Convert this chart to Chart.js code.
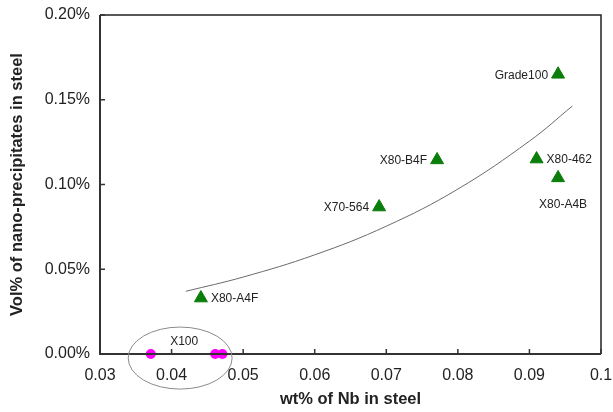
<!DOCTYPE html>
<html>
<head>
<meta charset="utf-8">
<script src="https://cdn.jsdelivr.net/npm/chart.js@4"></script>
<style>
  html, body { margin: 0; padding: 0; background: #fff; }
  #wrap { width: 613px; height: 412px; }
</style>
</head>
<body>
<div id="wrap"><canvas id="c" width="613" height="412"></canvas></div>
<script>
// steel grades (triangles)
const steelNames = ["X80-A4F", "X70-564", "X80-B4F", "Grade100", "X80-462", "X80-A4B"];
const steelNb = [0.0441, 0.0690, 0.0771, 0.0940, 0.0910, 0.0940];
const steelVol = [0.033, 0.0867, 0.1145, 0.165, 0.115, 0.1039];
const labelSide = ["right", "left", "left", "left", "right", "below"];

// X100 (circles)
const x100Nb = [0.0371, 0.0461, 0.0471];
const x100Vol = [0, 0, 0];

// fitted curve
const trendNb = [0.042, 0.050, 0.060, 0.070, 0.080, 0.090, 0.096];
const trendVol = [0.037, 0.0454, 0.0585, 0.0754, 0.0973, 0.1256, 0.1463];

// ellipse round the X100 group
const ringCenter = [0.0412, -0.0024];
const ringRadius = [0.00726, 0.0183];

const xTicks = [0.03, 0.04, 0.05, 0.06, 0.07, 0.08, 0.09, 0.1];
const yTicks = [0, 0.05, 0.10, 0.15, 0.20];

const font = "Arial, 'Liberation Sans', sans-serif";

const pts = (xs, ys) => xs.map((x, i) => ({ x: x, y: ys[i] }));

const decorPlugin = {
    id: "decor",
    afterDatasetsDraw(chart) {
        const ctx = chart.ctx;
        const xs = chart.scales.x, ys = chart.scales.y;
        const a = chart.chartArea;
        ctx.save();

        // frame: thin top/right, heavier left/bottom
        ctx.strokeStyle = "#222";
        ctx.lineWidth = 1.5;
        ctx.beginPath();
        ctx.moveTo(a.left, a.top);
        ctx.lineTo(a.right, a.top);
        ctx.lineTo(a.right, a.bottom);
        ctx.stroke();
        ctx.lineWidth = 2;
        ctx.strokeStyle = "#333";
        ctx.beginPath();
        ctx.moveTo(a.left, a.top);
        ctx.lineTo(a.left, a.bottom);
        ctx.lineTo(a.right, a.bottom);
        ctx.stroke();

        // inward ticks
        ctx.lineWidth = 1.5;
        ctx.beginPath();
        xTicks.forEach(v => {
            const px = xs.getPixelForValue(v);
            ctx.moveTo(px, a.bottom);
            ctx.lineTo(px, a.bottom - 5);
        });
        yTicks.forEach(v => {
            const py = ys.getPixelForValue(v);
            ctx.moveTo(a.left, py);
            ctx.lineTo(a.left + 5, py);
        });
        ctx.stroke();

        // point labels
        ctx.fillStyle = "#222";
        ctx.font = "12px " + font;
        ctx.textBaseline = "middle";
        steelNames.forEach((name, i) => {
            const px = xs.getPixelForValue(steelNb[i]);
            const py = ys.getPixelForValue(steelVol[i]);
            if (labelSide[i] === "right") {
                ctx.textAlign = "left";
                ctx.fillText(name, px + 10, py + 1);
            } else if (labelSide[i] === "left") {
                ctx.textAlign = "right";
                ctx.fillText(name, px - 10, py + 1);
            } else {
                ctx.textAlign = "center";
                ctx.fillText(name, px + 5, py + 27);
            }
        });

        // ellipse + X100 label
        const cx = xs.getPixelForValue(ringCenter[0]);
        const cy = ys.getPixelForValue(ringCenter[1]);
        const rx = xs.getPixelForValue(ringCenter[0] + ringRadius[0]) - cx;
        const ry = cy - ys.getPixelForValue(ringCenter[1] + ringRadius[1]);
        ctx.strokeStyle = "#8a8a8a";
        ctx.lineWidth = 1;
        ctx.beginPath();
        ctx.ellipse(cx, cy, rx, ry, 0, 0, Math.PI * 2);
        ctx.stroke();
        ctx.textAlign = "center";
        ctx.fillText("X100", cx + 4, cy - 16);

        ctx.restore();
    }
};

const ctx = document.getElementById("c").getContext("2d");
new Chart(ctx, {
    type: "scatter",
    data: {
        datasets: [
            {
                label: "trend",
                type: "line",
                data: pts(trendNb, trendVol),
                borderColor: "#6a6a6a",
                borderWidth: 1,
                pointRadius: 0,
                tension: 0.4,
                fill: false
            },
            {
                label: "steels",
                data: pts(steelNb, steelVol),
                pointStyle: "triangle",
                pointRadius: 7.5,
                backgroundColor: "#0a7d0a",
                borderColor: "#0a7d0a",
                borderWidth: 1
            },
            {
                label: "X100",
                data: pts(x100Nb, x100Vol),
                pointStyle: "circle",
                pointRadius: 5,
                backgroundColor: "#ff00ff",
                borderColor: "#ff00ff",
                borderWidth: 0,
                clip: false
            }
        ]
    },
    options: {
        responsive: false,
        animation: false,
        layout: { padding: { top: 15, right: 12, left: 0, bottom: 0 } },
        plugins: {
            legend: { display: false },
            tooltip: { enabled: false }
        },
        scales: {
            x: {
                type: "linear",
                min: 0.03,
                max: 0.1,
                afterBuildTicks: s => { s.ticks = xTicks.map(v => ({ value: v })); },
                afterFit: s => {
                    s.height = 58;
                    s.paddingLeft = 0;
                    s.paddingRight = 0;
                },
                grid: { display: false, drawTicks: false },
                border: { display: false },
                ticks: {
                    padding: 12,
                    color: "#222",
                    font: { family: font, size: 16 },
                    callback: v => (v === 0.1 ? "0.1" : v.toFixed(2))
                },
                title: {
                    display: true,
                    text: "wt% of Nb in steel",
                    color: "#222",
                    font: { family: font, size: 16.5, weight: "bold" },
                    padding: { top: 0, bottom: 3 }
                }
            },
            y: {
                type: "linear",
                min: 0,
                max: 0.2,
                afterBuildTicks: s => { s.ticks = yTicks.map(v => ({ value: v })); },
                afterFit: s => {
                    s.width = 100;
                    s.paddingTop = 0;
                    s.paddingBottom = 0;
                },
                grid: { display: false, drawTicks: false },
                border: { display: false },
                ticks: {
                    padding: 10,
                    color: "#222",
                    font: { family: font, size: 16 },
                    callback: v => v.toFixed(2) + "%"
                },
                title: {
                    display: true,
                    text: "Vol% of nano-precipitates in steel",
                    color: "#222",
                    font: { family: font, size: 16.5, weight: "bold" },
                    padding: { top: 8, bottom: 0 }
                }
            }
        }
    },
    plugins: [decorPlugin]
});
</script>
</body>
</html>
